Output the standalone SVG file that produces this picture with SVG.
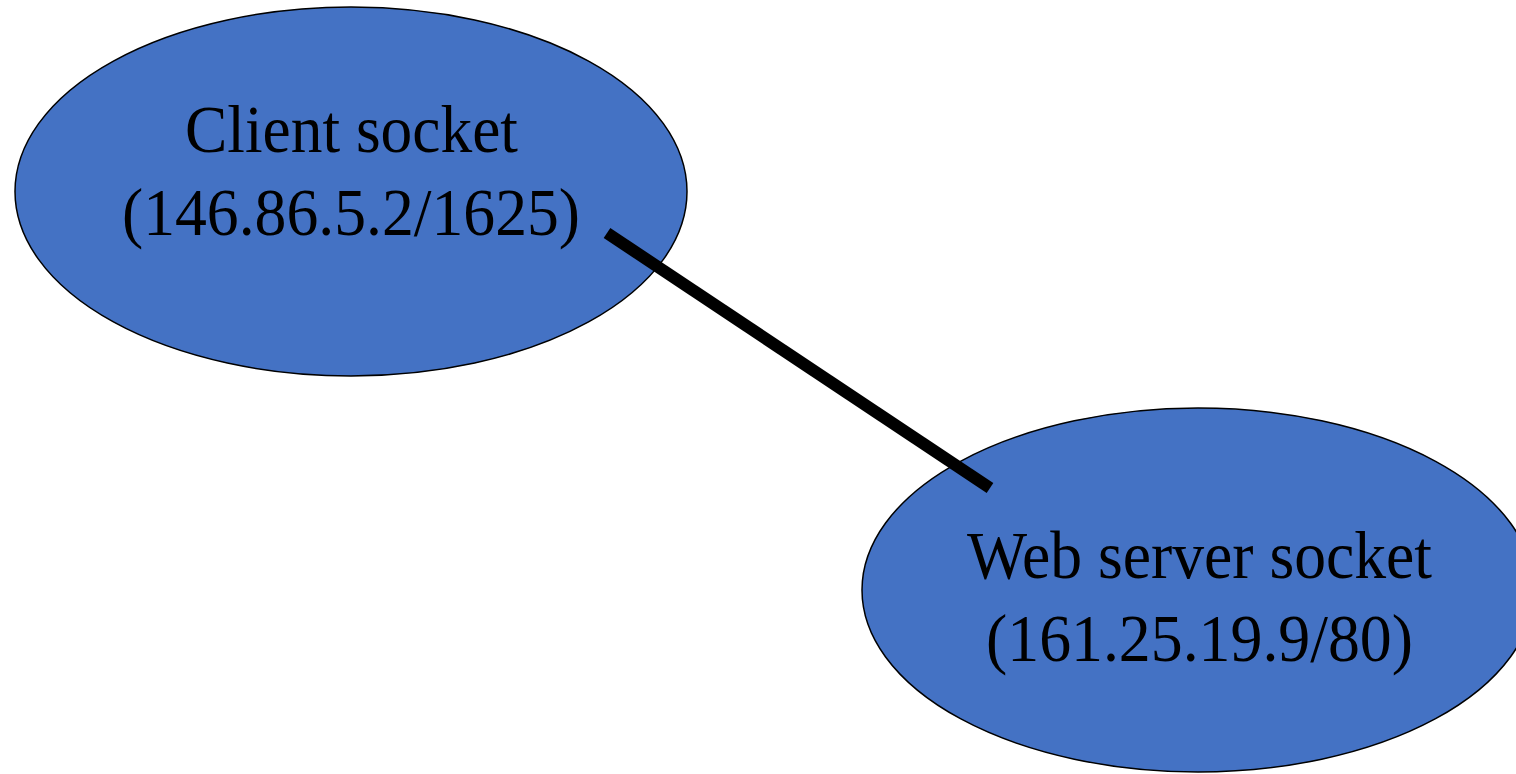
<svg xmlns="http://www.w3.org/2000/svg" width="1516" height="774" viewBox="0 0 1516 774">
  <style>
    .node { fill: #4472C4; stroke: #000000; stroke-width: 1.5; }
    .label { font-family: "Liberation Serif", "Times New Roman", serif; font-size: 68px; fill: #000000; text-anchor: middle; }
    .link { stroke: #000000; stroke-width: 12; stroke-linecap: butt; fill: none; }
  </style>
  <rect width="1516" height="774" fill="#ffffff"/>
  <g id="client">
    <ellipse class="node" cx="351" cy="191.5" rx="336" ry="184.5"/>
    <text class="label" x="351.5" y="152" textLength="333" lengthAdjust="spacingAndGlyphs">Client socket</text>
    <text class="label" x="351" y="235" textLength="458" lengthAdjust="spacingAndGlyphs">(146.86.5.2/1625)</text>
  </g>
  <g id="server">
    <ellipse class="node" cx="1198" cy="590" rx="336" ry="182"/>
    <text class="label" x="1199.5" y="578" textLength="465" lengthAdjust="spacingAndGlyphs">Web server socket</text>
    <text class="label" x="1199.5" y="661" textLength="427" lengthAdjust="spacingAndGlyphs">(161.25.19.9/80)</text>
  </g>
  <g id="connectors">
    <line class="link" x1="607" y1="233" x2="990" y2="488"/>
  </g>
</svg>
